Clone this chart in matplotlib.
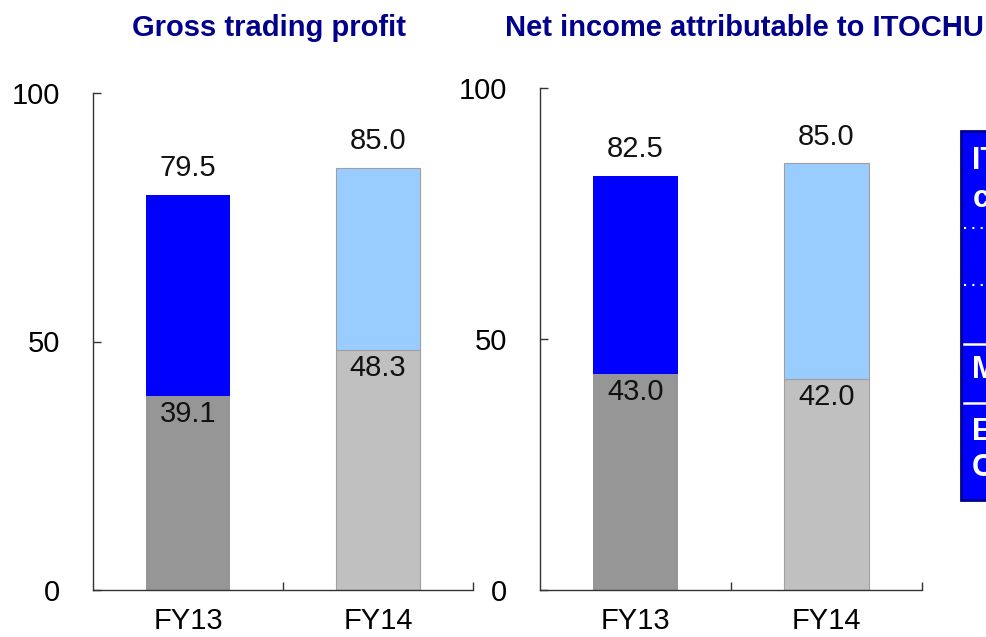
import matplotlib
matplotlib.use("Agg")
import matplotlib.pyplot as plt
from matplotlib.patches import Rectangle
from matplotlib.lines import Line2D

plt.rcParams["font.family"] = ["Liberation Sans", "DejaVu Sans"]

categories = ["FY13", "FY14"]
gross_bottom = [39.1, 48.3]
gross_total = [79.5, 85.0]
net_bottom = [43.0, 42.0]
net_total = [82.5, 85.0]
titles = ["Gross trading profit", "Net income attributable to ITOCHU"]
legend_letters = ["IT", "c", "M", "E", "C"]

W, H = 986, 637
bottom_colors = ["#969696", "#c0c0c0"]
top_colors = ["#0000ff", "#99ccff"]
edge_colors = ["none", "#a0a0a0"]
navy = "#00008c"


def fx(x):
    return x / W


def fy(y):
    return 1 - y / H


def draw_panel(ax, bottom, total):
    x = range(len(categories))
    top = [t - b for t, b in zip(total, bottom)]
    ax.bar(x, bottom, width=0.44, color=bottom_colors, edgecolor=edge_colors, linewidth=0.8)
    ax.bar(x, top, bottom=bottom, width=0.44, color=top_colors, edgecolor=edge_colors, linewidth=0.8)
    for i in x:
        ax.annotate(f"{total[i]:.1f}", (i, total[i]), xytext=(0, 19), textcoords="offset points",
                    ha="center", va="center", fontsize=21, color="#111111")
        ax.annotate(f"{bottom[i]:.1f}", (i, bottom[i]), xytext=(0, -13), textcoords="offset points",
                    ha="center", va="center", fontsize=21, color="#111111")
    ax.set_xlim(-0.5, 1.5)
    ax.set_ylim(0, 100)
    ax.set_yticks([0, 50, 100])
    ax.set_xticks(list(x))
    ax.set_xticklabels(categories)
    ax.set_xticks([0.5, 1.5], minor=True)
    ax.tick_params(axis="x", which="major", length=0, pad=12, labelsize=21)
    ax.tick_params(axis="x", which="minor", direction="in", length=6, width=1, color="#333333")
    ax.tick_params(axis="y", direction="in", length=6, width=1, color="#333333", pad=24, labelsize=21)
    for s in ["top", "right"]:
        ax.spines[s].set_visible(False)
    for s in ["left", "bottom"]:
        ax.spines[s].set_color("#333333")
        ax.spines[s].set_linewidth(1.0)


fig = plt.figure(figsize=(9.86, 6.37), dpi=100)

ax1 = fig.add_axes([fx(93), fy(590), fx(473 - 93), (590 - 93) / H])
draw_panel(ax1, gross_bottom, gross_total)

ax2 = fig.add_axes([fx(540), fy(590), fx(922 - 540), (590 - 88) / H])
draw_panel(ax2, net_bottom, net_total)

fig.text(fx(269), fy(28), titles[0], ha="center", va="center", fontsize=21,
         fontweight="bold", color=navy)
fig.text(fx(505), fy(28), titles[1], ha="left", va="center", fontsize=21,
         fontweight="bold", color=navy)

# legend box on the right edge, cut off by the canvas as in the source slide
fig.patches.append(Rectangle((fx(961), fy(500)), fx(60), (500 - 131) / H, transform=fig.transFigure,
                             facecolor="#0000ff", edgecolor=navy, linewidth=2, zorder=1))
for y in [228, 285]:
    fig.lines.append(Line2D([fx(964), fx(990)], [fy(y), fy(y)], transform=fig.transFigure,
                            color="white", linestyle=(0, (1, 3)), linewidth=1.5))
for y in [344, 403]:
    fig.lines.append(Line2D([fx(964), fx(990)], [fy(y), fy(y)], transform=fig.transFigure,
                            color="white", linewidth=1.8))
letter_pos = [(972, 161), (973, 199), (972, 370), (972, 432), (972, 468)]
for (x, y), s in zip(letter_pos, legend_letters):
    fig.text(fx(x), fy(y), s, ha="left", va="center", fontsize=22, fontweight="bold", color="white")

fig.savefig("out.png", dpi=100)
